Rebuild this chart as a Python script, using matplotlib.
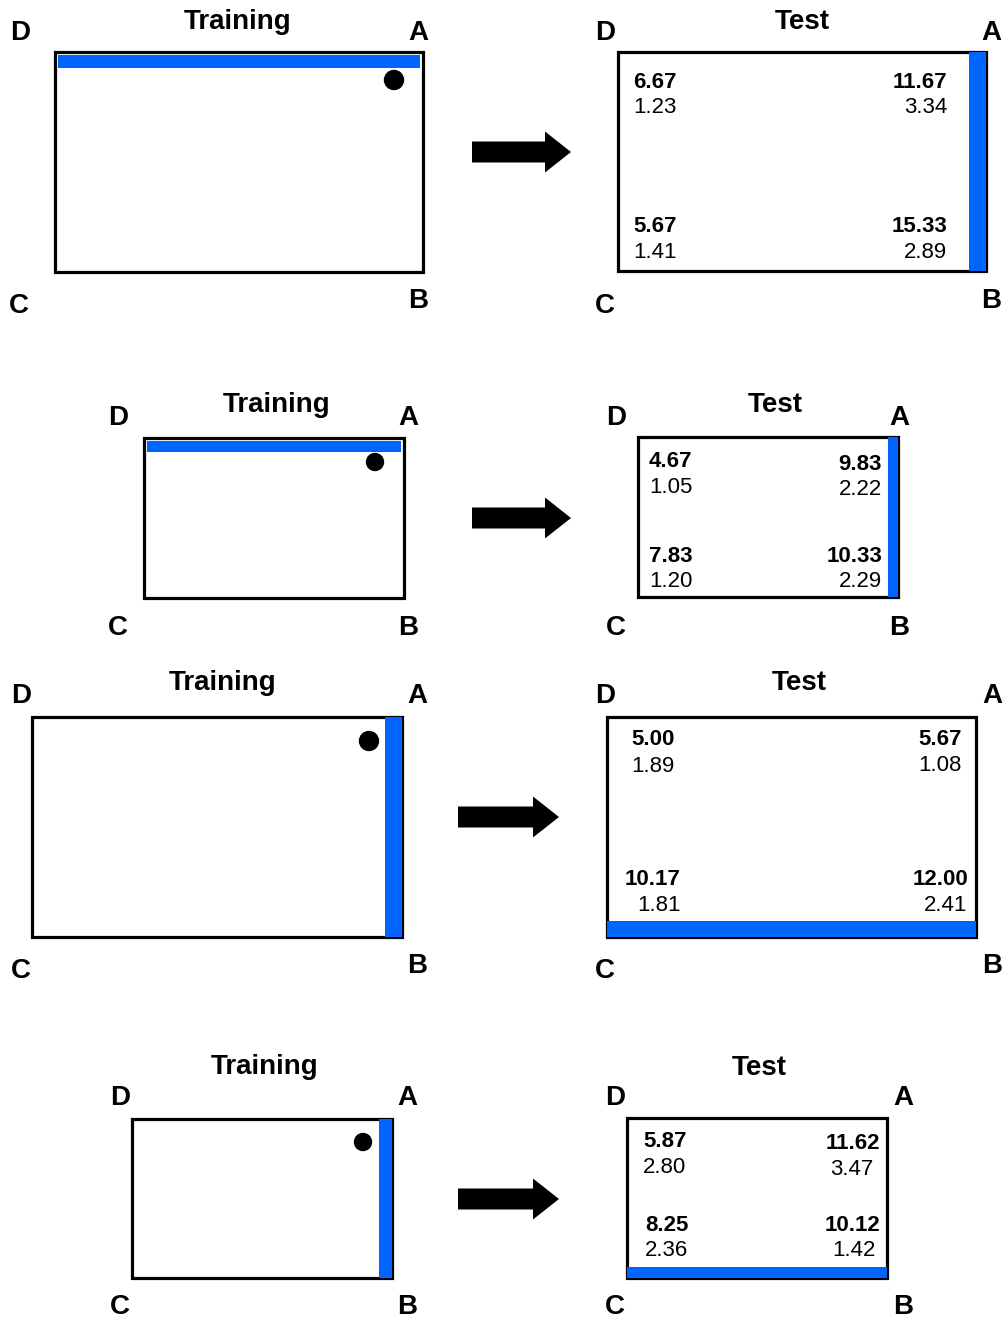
import matplotlib
matplotlib.use("Agg")
import matplotlib.pyplot as plt
from matplotlib.patches import Rectangle, Polygon, Circle

# ---------------- data ----------------
panel_titles = ["Training", "Test"]
corner_names = ["D", "A", "C", "B"]          # top-left, top-right, bottom-left, bottom-right
training_wall = ["top", "top", "right", "right"]
test_wall = ["right", "right", "bottom", "bottom"]
# test cell means / SDs, order: D-corner, A-corner, C-corner, B-corner
test_means = [
    ["6.67", "11.67", "5.67", "15.33"],
    ["4.67", "9.83", "7.83", "10.33"],
    ["5.00", "5.67", "10.17", "12.00"],
    ["5.87", "11.62", "8.25", "10.12"],
]
test_sds = [
    ["1.23", "3.34", "1.41", "2.89"],
    ["1.05", "2.22", "1.20", "2.29"],
    ["1.89", "1.08", "1.81", "2.41"],
    ["2.80", "3.47", "2.36", "1.42"],
]

# ---------------- layout (pixel space) ----------------
W, H = 1003, 1318
BLUE = "#0064FF"
train_layout = [
    dict(box=(55, 423, 52, 272), wt=13, inset=3, dot=(394, 80, 9.5), title=(238, 29),
         corners=[(20, 40), (418, 40), (19, 313), (418, 308)]),
    dict(box=(144, 404, 438, 598), wt=11, inset=3, dot=(375, 462, 8.5), title=(277, 412),
         corners=[(118, 425), (408, 425), (118, 635), (408, 635)]),
    dict(box=(32, 402, 717, 937), wt=17, inset=0, dot=(369, 741, 9.5), title=(223, 690),
         corners=[(21, 703), (417, 703), (21, 978), (417, 973)]),
    dict(box=(132, 392, 1119, 1278), wt=13, inset=0, dot=(363, 1142, 8.5), title=(265, 1074),
         corners=[(120, 1105), (407, 1105), (120, 1314), (407, 1314)]),
]
test_layout = [
    dict(box=(618, 986, 52, 271), wt=17, title=(802, 29),
         corners=[(605, 40), (991, 40), (605, 313), (991, 308)],
         cells=[(633, 633, "left", 88, 113), (947, 947, "right", 88, 113),
                (633, 633, "left", 232, 258), (947, 947, "right", 232, 258)]),
    dict(box=(638, 898, 437, 597), wt=10, title=(775, 412),
         corners=[(616, 425), (899, 425), (616, 635), (899, 635)],
         cells=[(649, 649, "left", 467, 493), (882, 882, "right", 470, 495),
                (649, 649, "left", 562, 587), (882, 882, "right", 562, 587)]),
    dict(box=(607, 976, 717, 937), wt=16, title=(799, 690),
         corners=[(605, 703), (992, 703), (605, 978), (992, 973)],
         cells=[(675, 675, "right", 745, 772), (962, 962, "right", 745, 771),
                (681, 681, "right", 885, 911), (968, 967, "right", 885, 911)]),
    dict(box=(627, 887, 1118, 1278), wt=11, title=(759, 1075),
         corners=[(615, 1105), (903, 1105), (615, 1314), (903, 1314)],
         cells=[(643, 643, "left", 1147, 1173), (880, 873, "right", 1149, 1175),
                (645, 645, "left", 1231, 1256), (880, 876, "right", 1231, 1256)]),
]
arrow_layout = [(472, 571, 152), (472, 571, 518), (458, 559, 817), (458, 559, 1199)]

FONT = "Liberation Sans"
LABEL_FS = 20
NUM_FS = 16

fig = plt.figure(figsize=(W / 100, H / 100), dpi=100)
ax = fig.add_axes([0, 0, 1, 1])
ax.set_xlim(0, W)
ax.set_ylim(H, 0)
ax.axis("off")


def draw_box(box, lw=2.3):
    x0, x1, y0, y1 = box
    ax.add_patch(Rectangle((x0, y0), x1 - x0, y1 - y0, fill=False,
                           edgecolor="black", linewidth=lw, zorder=2))


def draw_wall(box, side, wt, inset=0):
    x0, x1, y0, y1 = box
    if side == "top":
        r = Rectangle((x0 + inset, y0 + inset), (x1 - x0) - 2 * inset, wt)
    elif side == "right":
        r = Rectangle((x1 - wt - inset, y0 + inset), wt, (y1 - y0) - 2 * inset)
    else:  # bottom
        r = Rectangle((x0 + inset, y1 - wt - inset), (x1 - x0) - 2 * inset, wt)
    r.set_facecolor(BLUE)
    r.set_edgecolor("none")
    r.set_zorder(3)
    ax.add_patch(r)


def draw_labels(lay, title):
    tx, ty = lay["title"]
    ax.text(tx, ty, title, ha="center", va="baseline", fontsize=LABEL_FS,
            fontweight="bold", family=FONT)
    for name, (cx, cy) in zip(corner_names, lay["corners"]):
        ax.text(cx, cy, name, ha="center", va="baseline", fontsize=LABEL_FS,
                fontweight="bold", family=FONT)


for i in range(4):
    tl = train_layout[i]
    draw_box(tl["box"])
    draw_wall(tl["box"], training_wall[i], tl["wt"], tl["inset"])
    dx, dy, dr = tl["dot"]
    ax.add_patch(Circle((dx, dy), dr, color="black", zorder=4))
    draw_labels(tl, panel_titles[0])

    te = test_layout[i]
    draw_box(te["box"])
    draw_wall(te["box"], test_wall[i], te["wt"])
    draw_labels(te, panel_titles[1])
    for k, (xm, xs, ha, ym, ys) in enumerate(te["cells"]):
        ax.text(xm, ym, test_means[i][k], ha=ha, va="baseline", fontsize=NUM_FS,
                fontweight="bold", family=FONT)
        ax.text(xs, ys, test_sds[i][k], ha=ha, va="baseline", fontsize=NUM_FS,
                family=FONT)

    x0, x1, yc = arrow_layout[i]
    sh, hh, hl = 10.5, 20.5, 26
    pts = [(x0, yc - sh), (x1 - hl, yc - sh), (x1 - hl, yc - hh), (x1, yc),
           (x1 - hl, yc + hh), (x1 - hl, yc + sh), (x0, yc + sh)]
    ax.add_patch(Polygon(pts, closed=True, facecolor="black", edgecolor="none", zorder=2))

fig.savefig("out.png", dpi=100, facecolor="white")
